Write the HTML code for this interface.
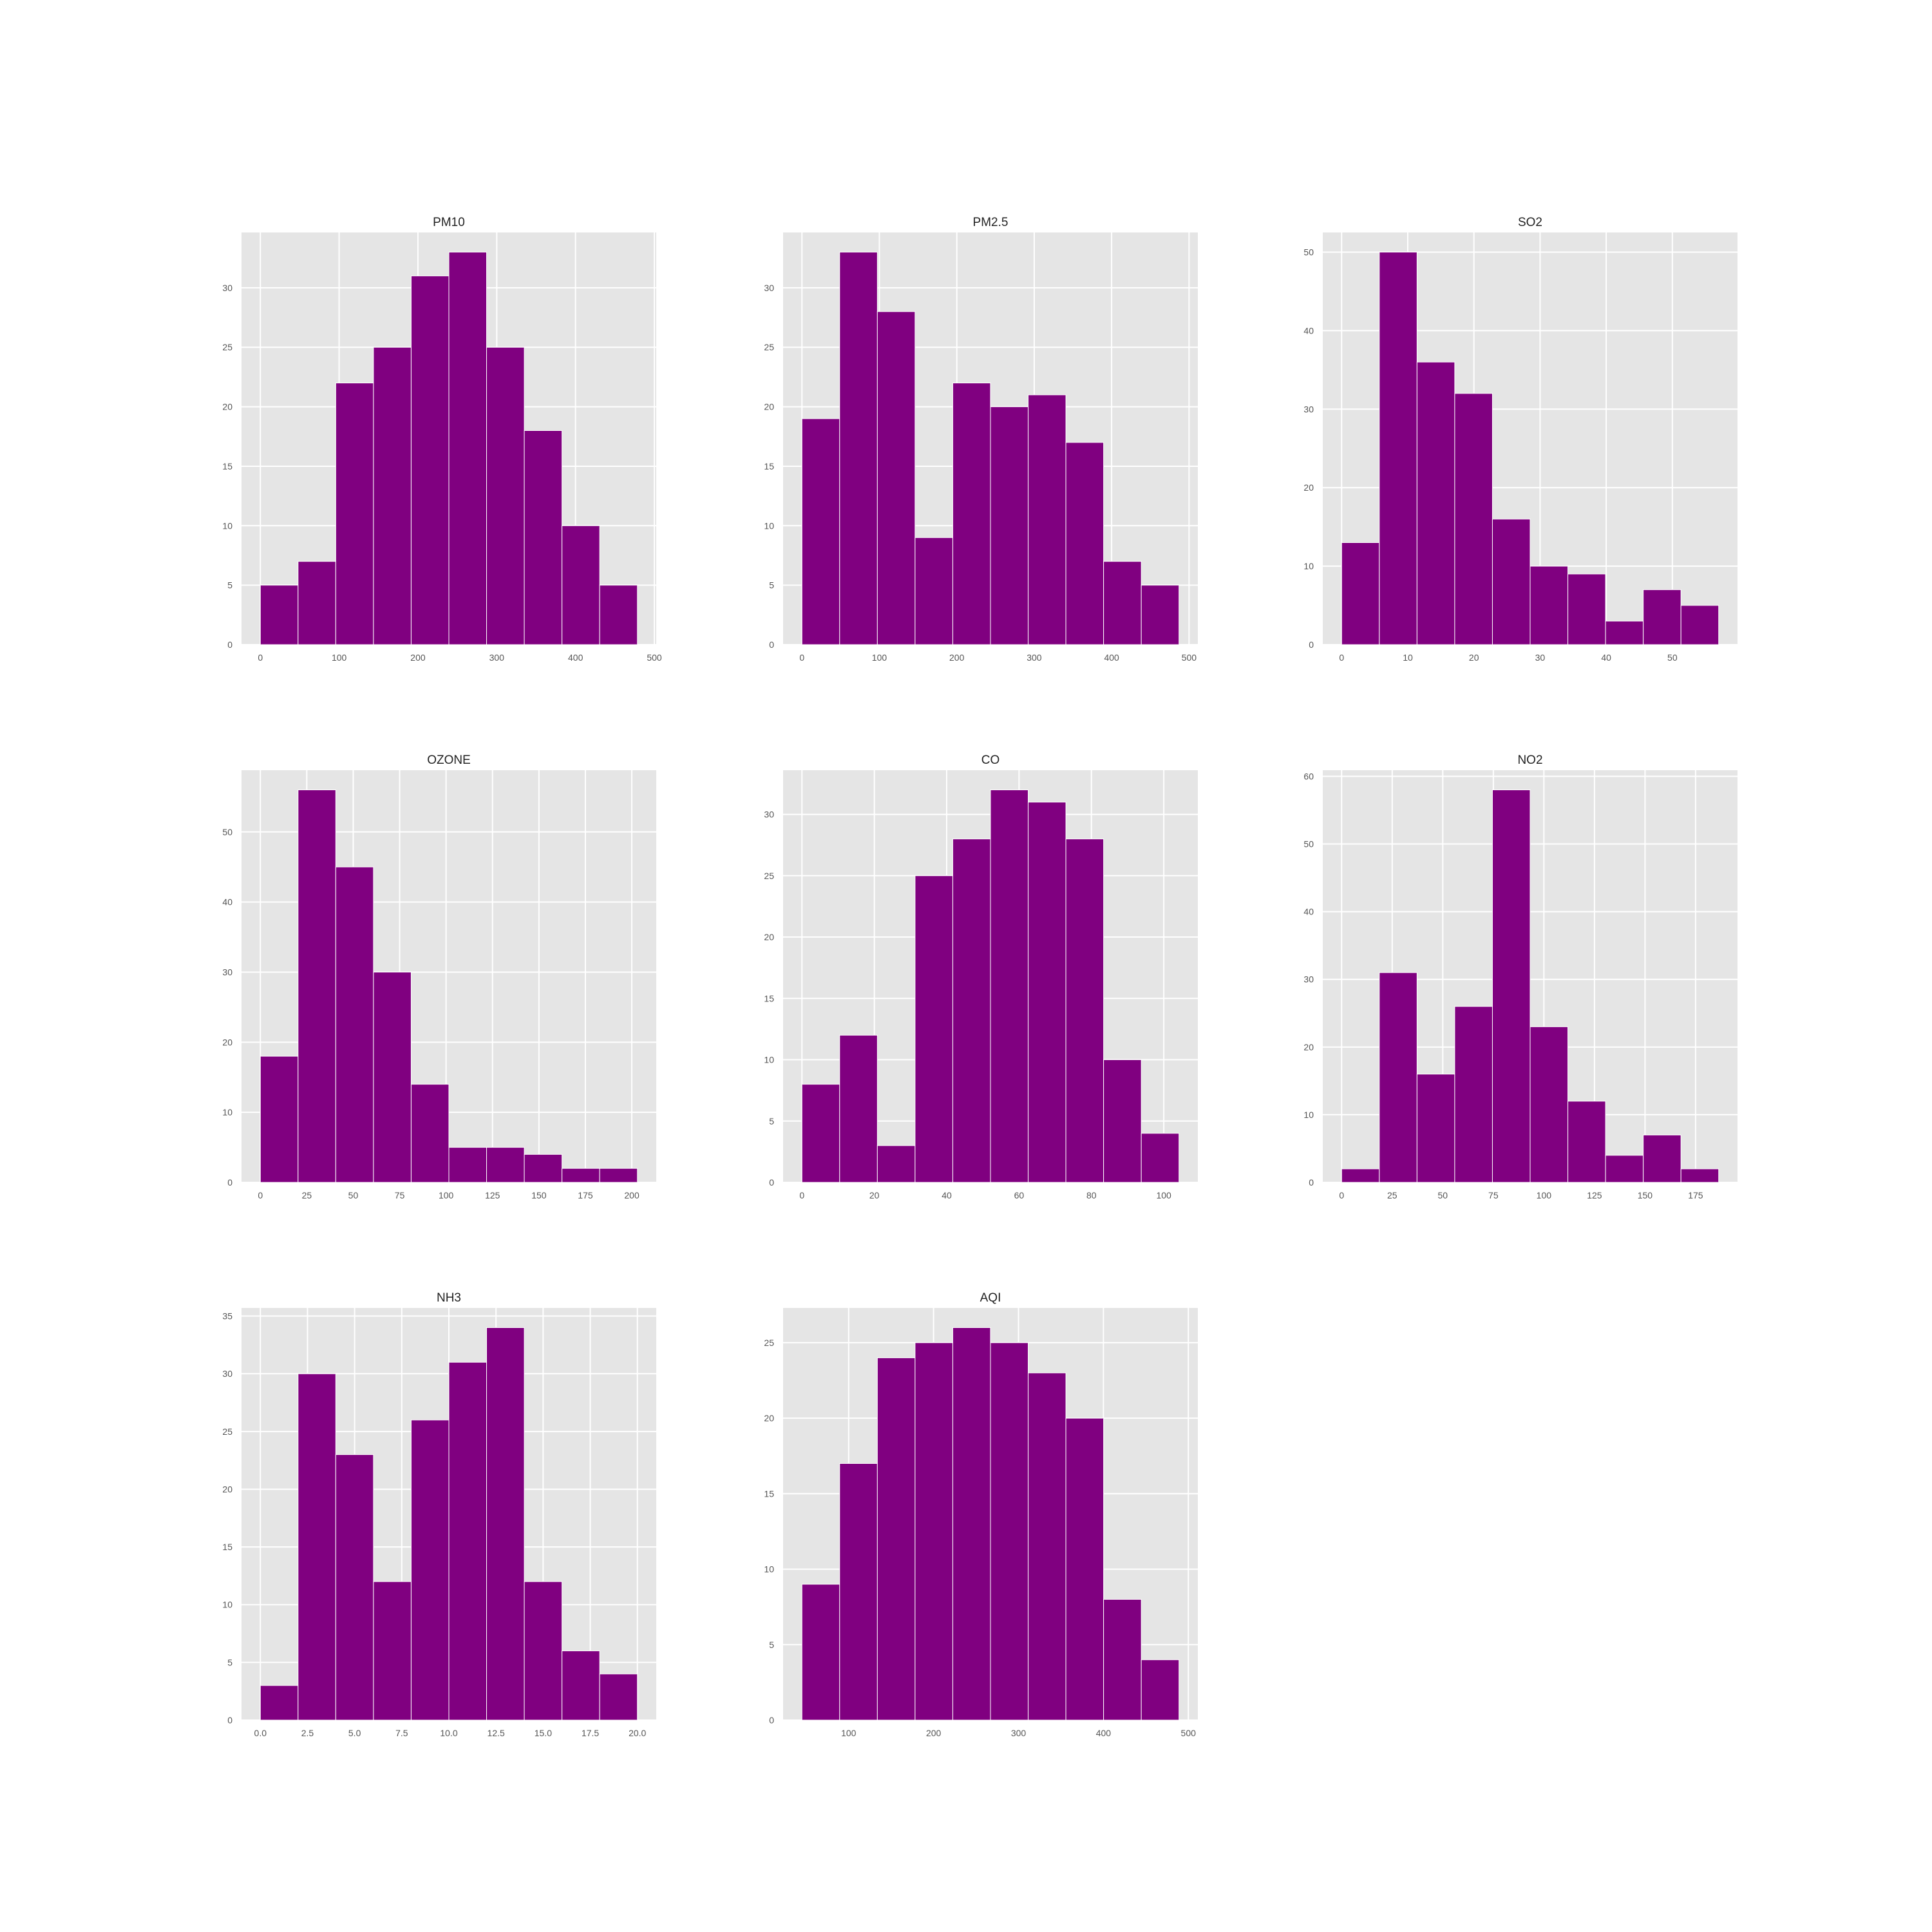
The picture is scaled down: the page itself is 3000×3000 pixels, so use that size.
<!DOCTYPE html>
<html><head><meta charset="utf-8"><style>
html,body{margin:0;padding:0;background:#fff;}
svg{display:block;font-family:"Liberation Sans",Arial,sans-serif;}
</style></head><body>
<svg id="fig" width="3000" height="3000" viewBox="0 0 3000 3000" xmlns="http://www.w3.org/2000/svg"></svg>
<script>
const titles = ["PM10","PM2.5","SO2","OZONE","CO","NO2","NH3","AQI"];
const dataMin = [0, 0, 0, 0, 0, 0, 0, 45];
const dataMax = [478.5, 487, 57, 203, 104.2, 186.4, 20, 489];
const countsPM10 = [5,7,22,25,31,33,25,18,10,5];
const countsPM25 = [19,33,28,9,22,20,21,17,7,5];
const countsSO2 = [13,50,36,32,16,10,9,3,7,5];
const countsOZONE = [18,56,45,30,14,5,5,4,2,2];
const countsCO = [8,12,3,25,28,32,31,28,10,4];
const countsNO2 = [2,31,16,26,58,23,12,4,7,2];
const countsNH3 = [3,30,23,12,26,31,34,12,6,4];
const countsAQI = [9,17,24,25,26,25,23,20,8,4];
const xTicksPM10 = ["0","100","200","300","400","500"];
const xTicksPM25 = ["0","100","200","300","400","500"];
const xTicksSO2 = ["0","10","20","30","40","50"];
const xTicksOZONE = ["0","25","50","75","100","125","150","175","200"];
const xTicksCO = ["0","20","40","60","80","100"];
const xTicksNO2 = ["0","25","50","75","100","125","150","175"];
const xTicksNH3 = ["0.0","2.5","5.0","7.5","10.0","12.5","15.0","17.5","20.0"];
const xTicksAQI = ["100","200","300","400","500"];
const yTicksPM10 = [0,5,10,15,20,25,30];
const yTicksPM25 = [0,5,10,15,20,25,30];
const yTicksSO2 = [0,10,20,30,40,50];
const yTicksOZONE = [0,10,20,30,40,50];
const yTicksCO = [0,5,10,15,20,25,30];
const yTicksNO2 = [0,10,20,30,40,50,60];
const yTicksNH3 = [0,5,10,15,20,25,30,35];
const yTicksAQI = [0,5,10,15,20,25];

const allCounts=[countsPM10,countsPM25,countsSO2,countsOZONE,countsCO,countsNO2,countsNH3,countsAQI];
const allX=[xTicksPM10,xTicksPM25,xTicksSO2,xTicksOZONE,xTicksCO,xTicksNO2,xTicksNH3,xTicksAQI];
const allY=[yTicksPM10,yTicksPM25,yTicksSO2,yTicksOZONE,yTicksCO,yTicksNO2,yTicksNH3,yTicksAQI];

const NS="http://www.w3.org/2000/svg";
const svg=document.getElementById('fig');
function mk(tag,attrs,parent){const e=document.createElementNS(NS,tag);for(const k in attrs)e.setAttribute(k,attrs[k]);parent.appendChild(e);return e;}
const colX=[375,1216,2054], rowY=[361,1196,2031], W=644, H=640;

titles.forEach((t,i)=>{
  const ax0=colX[i%3], ay0=rowY[Math.floor(i/3)];
  const g=mk('g',{},svg);
  
  
  const mn=dataMin[i], mx=dataMax[i], r=mx-mn;
  const x0=mn-0.05*r, x1=mx+0.05*r;
  const counts=allCounts[i];
  const ymax=Math.max(...counts)*1.05;
  const xs=v=>ax0+(v-x0)/(x1-x0)*W;
  const ys=v=>ay0+H-(v/ymax)*H;
  const bg=mk('rect',{x:ax0,y:ay0,width:W,height:H,fill:'#e5e5e5'},g);
  
  
  allX[i].forEach(lbl=>{
    const v=parseFloat(lbl), px=xs(v);
    if(px>=ax0-1&&px<=ax0+W+1) mk('line',{x1:px,x2:px,y1:ay0,y2:ay0+H,stroke:'#fff','stroke-width':2},g);
    const tx=mk('text',{x:px,y:ay0+H+25,'font-size':14,fill:'#555','text-anchor':'middle'},g);
    tx.textContent=lbl;
    
    
  });
  allY[i].forEach(v=>{
    const py=ys(v);
    mk('line',{x1:ax0,x2:ax0+W,y1:py,y2:py,stroke:'#fff','stroke-width':2},g);
    const ty=mk('text',{x:ax0-14,y:py+5,'font-size':14,fill:'#555','text-anchor':'end'},g);
    ty.textContent=v;
    
    
  });
  const bw=r/counts.length;
  counts.forEach((c,k)=>{
    const bx=xs(mn+k*bw), bx2=xs(mn+(k+1)*bw);
    const b=mk('rect',{x:bx,y:ys(c),width:bx2-bx,height:ys(0)-ys(c),fill:'#800080',stroke:'#ffffff','stroke-width':1},g);
    
    
  });
  const tt=mk('text',{x:ax0+W/2,y:ay0-10,'font-size':19,fill:'#222','text-anchor':'middle'},g);
  tt.textContent=t;
  
  
});
</script>
</body></html>
